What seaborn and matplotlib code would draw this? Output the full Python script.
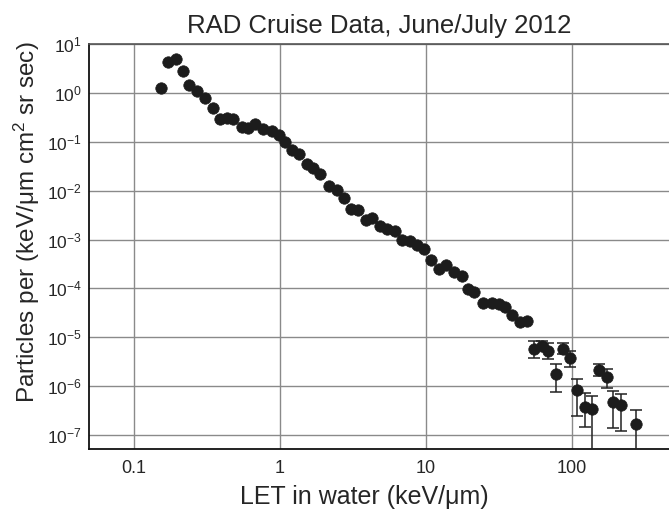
import numpy as np
import pandas as pd
import matplotlib
matplotlib.use("Agg")
import matplotlib.pyplot as plt
import seaborn as sns

# ---- data ----
let_main = [0.153, 0.172, 0.194, 0.215, 0.240, 0.272, 0.306, 0.348, 0.388, 0.431,
            0.480, 0.547, 0.607, 0.674, 0.765, 0.877, 0.989, 1.082, 1.203, 1.356,
            1.523, 1.695, 1.893, 2.166, 2.438, 2.744, 3.04, 3.42, 3.88, 4.30,
            4.84, 5.43, 6.09, 6.82, 7.77, 8.63, 9.69, 10.8, 12.3, 13.8,
            15.6, 17.6, 19.3, 21.3, 24.7, 28.2, 31.6, 34.8, 38.8, 44.0, 48.9]
flux_main = [1.25, 4.22, 4.97, 2.82, 1.46, 1.07, 0.779, 0.486, 0.293, 0.300,
             0.286, 0.198, 0.187, 0.232, 0.179, 0.163, 0.138, 0.0968, 0.0695, 0.0562,
             0.0359, 0.0297, 0.0219, 0.0127, 0.0105, 0.00705, 0.00426, 0.00400, 0.00250, 0.00279,
             0.00191, 0.00163, 0.00149, 0.000959, 0.00095, 0.000757, 0.000636, 0.000382, 0.000251, 0.000306,
             0.000215, 0.000180, 9.64e-5, 8.55e-5, 5.05e-5, 4.98e-5, 4.74e-5, 4.18e-5, 2.85e-5, 2.03e-5, 2.18e-5]

let_err = [54.7, 62.0, 68.8, 78.0, 87.1, 97.3, 108.7, 122.1, 137.7, 152.6,
           172.9, 191.9, 217.9, 273.5]
flux_err = [5.86e-6, 6.79e-6, 5.37e-6, 1.77e-6, 5.87e-6, 3.77e-6, 8.48e-7, 3.77e-7, 3.35e-7, 2.13e-6,
            1.57e-6, 4.72e-7, 4.04e-7, 1.68e-7]
flux_hi = [8.55e-6, 8.55e-6, 7.78e-6, 2.80e-6, 7.64e-6, 5.24e-6, 1.40e-6, 7.36e-7, 6.27e-7, 2.84e-6,
           2.21e-6, 7.94e-7, 7.05e-7, 3.19e-7]
flux_lo = [3.84e-6, 5.40e-6, 3.54e-6, 7.64e-7, 4.50e-6, 2.48e-6, 2.44e-7, 1.50e-7, 1e-9, 1.60e-6,
           9.31e-7, 1.41e-7, 1.23e-7, 1e-9]

x_ticks = [0.1, 1, 10, 100]
x_tick_labels = ["0.1", "1", "10", "100"]
y_ticks = [1e-7, 1e-6, 1e-5, 1e-4, 1e-3, 1e-2, 1e-1, 1e0, 1e1]

# ---- style ----
sns.set_style("white")
plt.rcParams["font.family"] = ["Liberation Sans", "DejaVu Sans"]
plt.rcParams["mathtext.fontset"] = "custom"
plt.rcParams["mathtext.rm"] = "Liberation Sans"
plt.rcParams["mathtext.it"] = "Liberation Sans:italic"
plt.rcParams["mathtext.bf"] = "Liberation Sans:bold"
plt.rcParams["axes.unicode_minus"] = False

fig = plt.figure(figsize=(6.69, 5.13), dpi=100)
ax = fig.add_axes([89 / 669, 1 - 449 / 513, (669 - 89) / 669, 405 / 513])

mcol = "#1c1c1c"
df_main = pd.DataFrame({"LET": let_main + let_err, "flux": flux_main + flux_err})

yerr_lo = [f - l for f, l in zip(flux_err, flux_lo)]
yerr_hi = [h - f for f, h in zip(flux_err, flux_hi)]
ax.errorbar(let_err, flux_err, yerr=[yerr_lo, yerr_hi], fmt="none",
            ecolor="#222222", elinewidth=1.1, capsize=4.5, capthick=1.1, zorder=3)

sns.scatterplot(data=df_main, x="LET", y="flux", ax=ax, color=mcol, s=68,
                edgecolor=mcol, linewidth=0.5, zorder=4, legend=False)

ax.set_xscale("log")
ax.set_yscale("log")
ax.set_xlim(10 ** -1.308, 10 ** 2.664)
ax.set_ylim(5.2e-8, 10)

ax.set_xticks(x_ticks)
ax.set_xticklabels(x_tick_labels)
ax.xaxis.set_minor_locator(matplotlib.ticker.NullLocator())
ax.set_yticks(y_ticks)
ax.yaxis.set_major_formatter(matplotlib.ticker.LogFormatterSciNotation())
ax.yaxis.set_minor_locator(matplotlib.ticker.NullLocator())

ax.grid(True, which="major", color="#8a8a8a", linewidth=1.0)
ax.set_axisbelow(True)
ax.tick_params(axis="x", labelsize=13, direction="in", length=4, color="#333333", pad=8)
ax.tick_params(axis="y", labelsize=12.5, direction="in", length=4, color="#333333", pad=5)

for side in ["left", "bottom"]:
    ax.spines[side].set_color("#111111")
    ax.spines[side].set_linewidth(1.3)
ax.spines["top"].set_color("#555555")
ax.spines["top"].set_linewidth(1.2)
ax.spines["right"].set_visible(False)

ax.set_xlabel("LET in water (keV/μm)", fontsize=18)
ax.xaxis.set_label_coords(0.475, -0.118)
ax.xaxis.label.set_va("center")
ax.set_ylabel("Particles per (keV/μm cm$^2$ sr sec)", fontsize=17.5)
ax.yaxis.set_label_coords(-0.107, 0.56)
ax.yaxis.label.set_va("center")

ax.text(0.501, 1.045, "RAD Cruise Data, June/July 2012", transform=ax.transAxes,
        ha="center", va="center", fontsize=18.5)

fig.savefig("out.png", dpi=100)
